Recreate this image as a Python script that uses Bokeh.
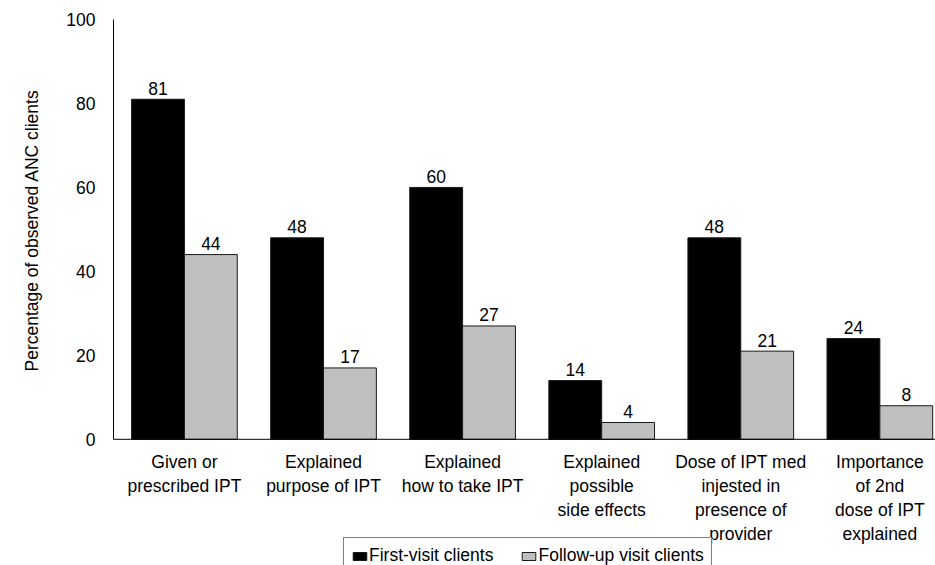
from bokeh.plotting import figure
from bokeh.models import ColumnDataSource, FixedTicker, Legend, LegendItem, Range1d, Span, Title
from bokeh.core.properties import value
from bokeh.embed import file_html
from bokeh.resources import INLINE

categories = ["Given or\nprescribed IPT", "Explained\npurpose of IPT", "Explained\nhow to take IPT",
              "Explained\npossible\nside effects", "Dose of IPT med\ninjested in\npresence of\nprovider",
              "Importance\nof 2nd\ndose of IPT\nexplained"]
first_visit = [81, 48, 60, 14, 48, 24]
follow_up = [44, 17, 27, 4, 21, 8]
y_ticks = [0, 20, 40, 60, 80, 100]

FONT = "Liberation Sans"
FS = "17.5px"
n = len(categories)
centers = [i + 0.5 for i in range(n)]
off = 0.19
w = 0.38

src1 = ColumnDataSource(dict(x=[c - off for c in centers], top=first_visit,
                             lab=[str(v) for v in first_visit]))
src2 = ColumnDataSource(dict(x=[c + off for c in centers], top=follow_up,
                             lab=[str(v) for v in follow_up]))
src_cat = ColumnDataSource(dict(x=centers, y=[0 for _ in categories], lab=categories))

p = figure(width=935, height=565, output_backend="svg", toolbar_location=None,
           x_range=Range1d(-0.01, 5.90), y_range=Range1d(-30.06, 100),
           min_border_left=113, min_border_right=0, min_border_top=19, min_border_bottom=0)
p.outline_line_color = None
p.grid.grid_line_color = None
p.background_fill_color = "white"
p.border_fill_color = "white"

r1 = p.vbar(x="x", top="top", width=w, bottom=0, source=src1, fill_color="black", line_color="#1a1a1a", line_width=1)
r2 = p.vbar(x="x", top="top", width=w, bottom=0, source=src2, fill_color="#BFBFBF", line_color="#1a1a1a", line_width=1)

for s in (src1, src2):
    p.text(x="x", y="top", text="lab", source=s, text_align="center", text_baseline="alphabetic",
           y_offset=-11, text_font=value(FONT), text_font_size=FS, text_color="black")

# category labels under the baseline
p.text(x="x", y="y", text="lab", source=src_cat, text_align="center", text_baseline="top",
       y_offset=13, text_font=value(FONT), text_font_size=FS, text_color="black", text_line_height=1.2)

# baseline (x axis line)
p.add_layout(Span(location=0, dimension="width", line_color="black", line_width=1))
p.xaxis.visible = False

p.yaxis.ticker = FixedTicker(ticks=y_ticks)
p.yaxis.bounds = (0, 100)
p.yaxis.major_tick_line_color = None
p.yaxis.minor_tick_line_color = None
p.yaxis.major_tick_out = 0
p.yaxis.major_tick_in = 0
p.yaxis.minor_tick_out = 0
p.yaxis.major_label_text_font = FONT
p.yaxis.major_label_text_font_size = FS
p.yaxis.major_label_text_color = "black"
p.yaxis.major_label_standoff = 18
p.yaxis.axis_line_color = "black"

ytitle = Title(text="Percentage of observed ANC clients", align="left", offset=194,
               vertical_align="top",
               text_font=FONT, text_font_size=FS, text_font_style="normal",
               text_color="black", standoff=40)
p.add_layout(ytitle, "left")

legend = Legend(items=[LegendItem(label="First-visit clients", renderers=[r1]),
                       LegendItem(label="Follow-up visit clients", renderers=[r2])],
                orientation="horizontal", location=(230, -9),
                border_line_color="black", border_line_width=1,
                label_text_font=FONT, label_text_font_size=FS, label_text_color="black",
                glyph_width=17, glyph_height=10, label_standoff=1, spacing=27,
                padding=7, margin=0, label_height=17, background_fill_color="white")
p.add_layout(legend, "center")

open("out.html", "w").write(file_html(p, INLINE))
